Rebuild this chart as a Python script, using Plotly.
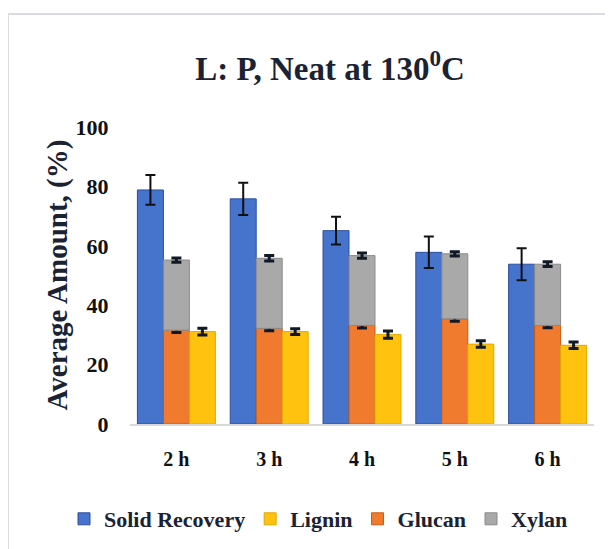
import plotly.graph_objects as go

categories = ["2 h", "3 h", "4 h", "5 h", "6 h"]
solid_recovery = [78.8, 75.8, 65.1, 57.8, 53.8]
solid_recovery_err = [5.0, 5.4, 4.7, 5.3, 5.4]
glucan = [31.6, 32.2, 33.2, 35.4, 33.2]
glucan_err = [0.8, 0.8, 0.9, 0.8, 0.8]
xylan = [23.6, 23.6, 23.5, 21.9, 20.6]
xylan_err = [0.7, 0.9, 0.9, 0.7, 0.8]
lignin = [31.1, 31.1, 30.1, 26.9, 26.5]
lignin_err = [1.1, 1.0, 1.2, 1.1, 1.1]
y_ticks = [0, 20, 40, 60, 80, 100]

FONT = "Liberation Serif, Times New Roman, serif"
big_err = dict(type="data", visible=True, color="#111111", thickness=2, width=5)
small_err = dict(type="data", visible=True, color="#111826", thickness=3, width=5)

fig = go.Figure()
fig.add_trace(go.Bar(
    name="Solid Recovery", x=categories, y=solid_recovery, offsetgroup="a",
    marker=dict(color="#4674CC", line=dict(color="#2B4F9E", width=1)),
    error_y=dict(array=solid_recovery_err, **big_err), legendrank=1))
fig.add_trace(go.Bar(
    name="Glucan", x=categories, y=glucan, offsetgroup="b",
    marker=dict(color="#F07B2E", line=dict(color="#C85A15", width=1)),
    error_y=dict(array=glucan_err, **small_err), legendrank=3))
fig.add_trace(go.Bar(
    name="Xylan", x=categories, y=xylan, offsetgroup="b", base=glucan,
    marker=dict(color="#A9A9A9", line=dict(color="#8A8A8A", width=1)),
    error_y=dict(array=xylan_err, **small_err), legendrank=4))
fig.add_trace(go.Bar(
    name="Lignin", x=categories, y=lignin, offsetgroup="c",
    marker=dict(color="#FFC20E", line=dict(color="#E0A800", width=1)),
    error_y=dict(array=lignin_err, **small_err), legendrank=2))

# page body adds an 8px offset; work in figure coordinates
OFF = 8
W, H = 605, 541
L, T = 130 - OFF, 127 - OFF
R = W - (594 - OFF)
B = H - (424 - OFF)
pw, ph = W - L - R, H - T - B


def px_x(p):
    return (p - OFF - L) / pw


def px_y(p):
    return (H - B - (p - OFF)) / ph


fig.update_layout(
    width=W, height=H,
    margin=dict(l=L, r=R, t=T, b=B, autoexpand=False),
    paper_bgcolor="white", plot_bgcolor="white",
    barmode="group", bargap=0.16, bargroupgap=0,
    font=dict(family=FONT, color="#1a1a1a"),
    title=dict(text="L: P, Neat at 130<sup>0</sup>C", x=(330 - OFF) / W, xanchor="center",
               y=1 - (68 - OFF) / H, yanchor="middle",
               font=dict(size=33, family=FONT, weight="bold", color="#1a2233")),
    showlegend=True,
    legend=dict(orientation="h", x=px_x(64), xanchor="left", y=px_y(519),
                yanchor="middle", font=dict(size=22, family=FONT, weight="bold", color="#1a2233"),
                traceorder="normal", itemwidth=30, bgcolor="rgba(0,0,0,0)"),
    xaxis=dict(showline=True, linecolor="#D9D9D9", linewidth=2, ticks="outside",
               ticklen=16, tickcolor="rgba(0,0,0,0)", showgrid=False,
               tickfont=dict(size=20, family=FONT, weight="bold", color="#111111")),
    yaxis=dict(range=[0, 100], tickvals=y_ticks, showgrid=False, showline=False, zeroline=False,
               ticks="outside", ticklen=16, tickcolor="rgba(0,0,0,0)",
               tickfont=dict(size=22, family=FONT, weight="bold", color="#111111")),
)

fig.add_annotation(text="Average Amount, (%)", xref="paper", yref="paper",
                   x=px_x(57), y=px_y(275.5), textangle=-90, showarrow=False,
                   xanchor="center", yanchor="middle",
                   font=dict(size=29, family=FONT, weight="bold", color="#1a2233"))

# chart frame border
fig.add_shape(type="line", xref="paper", yref="paper", x0=px_x(8), x1=px_x(613),
              y0=px_y(14), y1=px_y(14), line=dict(color="#D9DBE3", width=2))
fig.add_shape(type="line", xref="paper", yref="paper", x0=px_x(8), x1=px_x(8),
              y0=px_y(14), y1=px_y(549), line=dict(color="#D9DBE3", width=2))

fig.write_html("out.html")
